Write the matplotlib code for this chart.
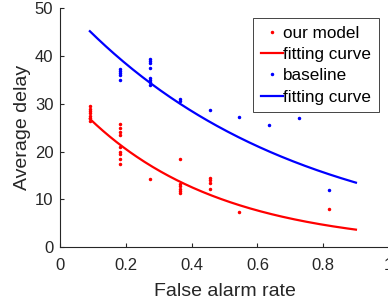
import numpy as np
import matplotlib
matplotlib.use("Agg")
import matplotlib.pyplot as plt

# scatter data (x = k/11)
ours_x = [1/11]*7 + [2/11]*9 + [3/11] + [4/11]*6 + [5/11]*4 + [6/11] + [9/11]
ours_y = [29.5, 29.0, 28.5, 28.0, 27.5, 27.0, 26.5,
          25.8, 25.0, 24.2, 23.5, 21.0, 20.0, 19.5, 18.5, 17.5,
          14.2,
          18.4, 13.2, 12.8, 12.3, 11.8, 11.4,
          14.6, 14.0, 13.5, 12.3,
          7.3,
          8.0]

base_x = [2/11]*5 + [3/11]*8 + [4/11]*2 + [5/11, 6/11, 7/11, 8/11, 9/11]
base_y = [37.2, 36.8, 36.4, 36.0, 35.0,
          39.5, 39.0, 38.5, 37.5, 35.5, 35.0, 34.5, 34.0,
          31.0, 30.7,
          28.7, 27.2, 25.5, 27.0, 11.9]

# exponential fit y = a*exp(b*x), coefficients estimated from the drawn curves
fit_ours = (33.5, -2.45)
fit_base = (51.7, -1.49)
fit_range = (0.09, 0.9)

xx = np.linspace(fit_range[0], fit_range[1], 200)

plt.rcParams['font.family'] = ['Liberation Sans', 'DejaVu Sans']
fig = plt.figure(figsize=(3.88, 3.07), dpi=100)
ax = fig.add_axes([0.1554, 0.1945, 0.8466, 0.7784])

ax.plot(ours_x, ours_y, '.', color='red', markersize=3, label='our model')
ax.plot(xx, fit_ours[0] * np.exp(fit_ours[1] * xx), '-', color='red', lw=1.6,
        label='fitting curve')
ax.plot(base_x, base_y, '.', color='blue', markersize=3, label='baseline')
ax.plot(xx, fit_base[0] * np.exp(fit_base[1] * xx), '-', color='blue', lw=1.6,
        label='fitting curve')

ax.set_xlim(0, 1)
ax.set_ylim(0, 50)
ax.set_xticks([0, 0.2, 0.4, 0.6, 0.8, 1])
ax.set_xticklabels(['0', '0.2', '0.4', '0.6', '0.8', '1'])
ax.set_yticks([0, 10, 20, 30, 40, 50])

ax.spines['top'].set_visible(False)
ax.spines['right'].set_visible(False)
for s in ['left', 'bottom']:
    ax.spines[s].set_color('#262626')
    ax.spines[s].set_linewidth(0.8)
ax.tick_params(direction='in', length=3, colors='#262626', labelsize=12)
ax.tick_params(axis='x', pad=8)
ax.tick_params(axis='y', pad=5)
ax.set_xlabel('False alarm rate', fontsize=14, color='#262626', labelpad=7)
ax.set_ylabel('Average delay', fontsize=14, color='#262626', labelpad=3)

leg = ax.legend(loc='upper right', bbox_to_anchor=(0.977, 0.940),
                bbox_transform=fig.transFigure, fontsize=12.3,
                fancybox=False, framealpha=1, edgecolor='#262626',
                handlelength=1.25, handletextpad=0.05, borderpad=0.45,
                labelspacing=0.36, borderaxespad=0)
leg.get_frame().set_linewidth(0.6)

fig.savefig('out.png', dpi=100)
